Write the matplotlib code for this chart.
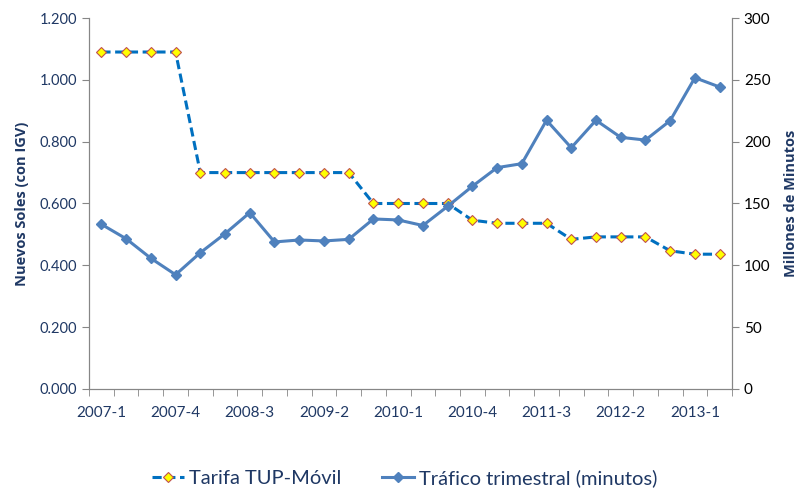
import numpy as np
import matplotlib
matplotlib.use("Agg")
from matplotlib import pyplot as plt

plt.rcParams['font.family'] = ['Lato', 'DejaVu Sans']

# quarters 2007-1 .. 2013-2
periodos = [f"{y}-{q}" for y in range(2007, 2014) for q in range(1, 5)][:26]

tarifa = [1.09, 1.09, 1.09, 1.09,
          0.70, 0.70, 0.70, 0.70, 0.70, 0.70, 0.70,
          0.60, 0.60, 0.60, 0.60,
          0.546, 0.536, 0.536, 0.536,
          0.484, 0.492, 0.492, 0.492,
          0.447, 0.436, 0.436]

trafico = [133.2, 121.5, 105.7, 92.4, 110.2, 125.6, 142.6, 118.9, 120.5, 119.7,
           121.0, 137.5, 136.7, 132.2, 147.7, 163.9, 179.0, 182.2, 217.3, 195.1,
           217.3, 203.5, 201.3, 217.0, 251.7, 244.2]

navy = "#1F3864"
gris = "#868686"

fig = plt.figure(figsize=(8.1, 4.88), dpi=100)
ax = fig.add_axes([0.1099, 0.2029, 0.7938, 0.7602])
ax2 = ax.twinx()

x = np.arange(len(periodos))

l1, = ax.plot(x, tarifa, color="#0070C0", lw=2.2, ls=(0, (3, 1.5)),
              marker="D", ms=5.5, mfc="#FFFF00", mec="#C0504D", mew=0.8, zorder=3)
l2, = ax2.plot(x, trafico, color="#4F81BD", lw=2.2,
               marker="D", ms=5.5, mfc="#4F81BD", mec="#4F81BD", zorder=3)

ax.set_xlim(-0.5, len(periodos) - 0.5)
ax.set_ylim(0, 1.2)
ax2.set_ylim(0, 300)

ax.set_yticks(np.arange(0, 1.21, 0.2))
ax.set_yticklabels([f"{v:.3f}" for v in np.arange(0, 1.21, 0.2)], color=navy, fontsize=10.5)
ax2.set_yticks(np.arange(0, 301, 50))
ax2.set_yticklabels([str(v) for v in range(0, 301, 50)], color="black", fontsize=11)

ax.set_xticks(x[::3])
ax.set_xticklabels(periodos[::3], color=navy, fontsize=11)
ax.set_xticks(np.arange(-0.5, len(periodos), 1), minor=True)
ax.tick_params(axis="x", which="major", length=0, pad=12)
ax.tick_params(axis="x", which="minor", length=5, color=gris)
ax.tick_params(axis="y", length=5, color=gris)
ax2.tick_params(axis="y", length=5, color=gris)

for a in (ax, ax2):
    a.spines["top"].set_visible(False)
    for s in ("left", "right", "bottom"):
        a.spines[s].set_color(gris)

ax.set_ylabel("Nuevos Soles (con IGV)", color=navy, fontsize=10.5, fontweight="bold",
              family=["Open Sans", "DejaVu Sans"], labelpad=8)
ax2.set_ylabel("Millones de Minutos", color=navy, fontsize=10.5, fontweight="bold",
               family=["Open Sans", "DejaVu Sans"], labelpad=10)

fig.legend([l1, l2], ["Tarifa TUP-Móvil", "Tráfico trimestral (minutos)"],
           loc="center", bbox_to_anchor=(0.5, 0.02), ncol=2, frameon=False,
           fontsize=14.5, handlelength=1.6, handletextpad=0.25, columnspacing=2.0,
           labelcolor=navy)

fig.savefig("out.png", dpi=100)
